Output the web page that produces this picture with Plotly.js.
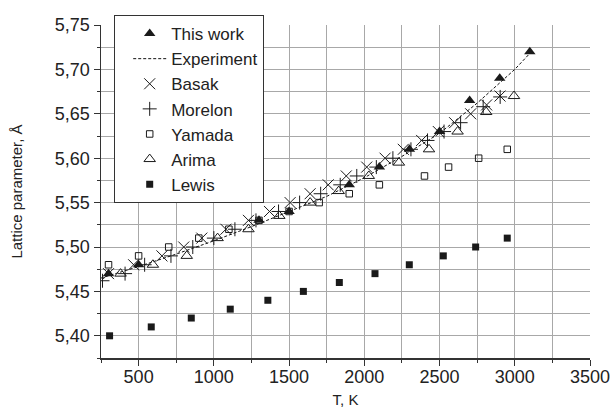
<!DOCTYPE html>
<html>
<head>
<meta charset="utf-8">
<script src="https://cdn.plot.ly/plotly-3.0.1.min.js"></script>
<style>html,body{margin:0;padding:0;background:#fff;}#chart{width:614px;height:414px;}</style>
</head>
<body>
<div id="chart"></div>
<script>
// ---- data ----
const thisWorkT = [300, 500, 1300, 1500, 1900, 2100, 2300, 2500, 2700, 2900, 3100];
const thisWorkA = [5.47, 5.48, 5.53, 5.54, 5.57, 5.59, 5.61, 5.63, 5.665, 5.69, 5.72];

const expT = [250, 500, 750, 1000, 1250, 1500, 1750, 2000, 2250, 2500, 2750, 3000, 3100];
const expA = [5.465, 5.478, 5.492, 5.507, 5.523, 5.540, 5.557, 5.578, 5.602, 5.628, 5.662, 5.700, 5.718];

const basakT = [300, 467, 655, 800, 920, 1080, 1230, 1370, 1507, 1640, 1760, 1880, 2016, 2138, 2259, 2381, 2492, 2600, 2707, 2813, 2902];
const basakA = [5.47, 5.48, 5.49, 5.50, 5.51, 5.52, 5.53, 5.54, 5.55, 5.56, 5.57, 5.58, 5.59, 5.60, 5.61, 5.62, 5.63, 5.64, 5.65, 5.66, 5.67];

const morelonT = [260, 410, 540, 715, 860, 1000, 1140, 1280, 1430, 1570, 1710, 1840, 1950, 2080, 2190, 2310, 2420, 2530, 2640, 2790, 2903];
const morelonA = [5.462, 5.47, 5.48, 5.49, 5.50, 5.51, 5.52, 5.53, 5.54, 5.55, 5.56, 5.57, 5.58, 5.59, 5.60, 5.61, 5.62, 5.63, 5.64, 5.658, 5.669];

const yamadaT = [300, 500, 700, 900, 1100, 1300, 1500, 1700, 1900, 2100, 2400, 2560, 2760, 2950];
const yamadaA = [5.48, 5.49, 5.50, 5.51, 5.52, 5.53, 5.54, 5.55, 5.56, 5.57, 5.58, 5.59, 5.60, 5.61];

const arimaT = [380, 595, 820, 1025, 1230, 1435, 1640, 1830, 2030, 2230, 2430, 2620, 2810, 2995];
const arimaA = [5.47, 5.48, 5.49, 5.51, 5.52, 5.535, 5.55, 5.563, 5.58, 5.595, 5.61, 5.63, 5.652, 5.67];

const lewisT = [307, 584, 850, 1109, 1359, 1595, 1834, 2071, 2299, 2525, 2740, 2950];
const lewisA = [5.40, 5.41, 5.42, 5.43, 5.44, 5.45, 5.46, 5.47, 5.48, 5.49, 5.50, 5.51];

const seriesNames = ['This work', 'Experiment', 'Basak', 'Morelon', 'Yamada', 'Arima', 'Lewis'];

// ---- styling ----
const ink = '#1a1a1a';
const grid = '#a8a8a8';
const font = 'Liberation Sans, Arial, sans-serif';

const traces = [
  {x: expT, y: expA, name: seriesNames[1], mode: 'lines', legendrank: 2,
   line: {color: '#111', width: 1, dash: '3px,2px'}},
  {x: basakT, y: basakA, name: seriesNames[2], mode: 'markers', legendrank: 3,
   marker: {symbol: 'x-thin-open', size: 11, color: ink, line: {color: ink, width: 1}}},
  {x: morelonT, y: morelonA, name: seriesNames[3], mode: 'markers', legendrank: 4,
   marker: {symbol: 'cross-thin-open', size: 10, color: ink, line: {color: ink, width: 1}}},
  {x: yamadaT, y: yamadaA, name: seriesNames[4], mode: 'markers', legendrank: 5,
   marker: {symbol: 'square-open', size: 6.5, color: ink, line: {color: ink, width: 1}}},
  {x: arimaT, y: arimaA, name: seriesNames[5], mode: 'markers', legendrank: 6,
   marker: {symbol: 'triangle-up-open', size: 10, color: ink, line: {color: ink, width: 1}}},
  {x: lewisT, y: lewisA, name: seriesNames[6], mode: 'markers', legendrank: 7,
   marker: {symbol: 'square', size: 7, color: ink}},
  {x: thisWorkT, y: thisWorkA, name: seriesNames[0], mode: 'markers', legendrank: 1,
   marker: {symbol: 'triangle-up', size: 10, color: ink}}
];

const layout = {
  width: 614, height: 414,
  margin: {l: 101, r: 24, t: 25, b: 56},
  paper_bgcolor: '#fff', plot_bgcolor: '#fff',
  separators: ',.',
  font: {family: font, size: 18, color: '#222'},
  showlegend: true,
  legend: {
    x: 0.027, y: 1.03, xanchor: 'left', yanchor: 'top',
    bgcolor: '#fff', bordercolor: '#333', borderwidth: 1,
    font: {family: font, size: 17, color: '#222'},
    itemwidth: 33, indentation: 13, tracegroupgap: 0,
    entrywidth: 165, entrywidthmode: 'pixels'
  },
  xaxis: {
    range: [250, 3500], dtick: 500, tick0: 0,
    ticks: 'outside', ticklen: 6, tickcolor: '#333', tickwidth: 1,
    ticklabelstandoff: -4,
    showline: true, linecolor: '#333', linewidth: 1.5,
    showgrid: true, gridcolor: grid, gridwidth: 1,
    zeroline: false,
    minor: {dtick: 250, tick0: 0, ticks: 'outside', ticklen: 3, tickcolor: '#333', showgrid: true, gridcolor: grid, gridwidth: 1},
    title: {text: 'T, K', font: {family: font, size: 15, color: '#222'}, standoff: 8},
    tickfont: {family: font, size: 18, color: '#222'}
  },
  yaxis: {
    range: [5.375, 5.75], dtick: 0.05, tick0: 5.4, tickformat: '.2f',
    ticks: 'outside', ticklen: 6, tickcolor: '#333', tickwidth: 1,
    showline: true, linecolor: '#333', linewidth: 1.5,
    showgrid: true, gridcolor: grid, gridwidth: 1,
    zeroline: false,
    minor: {dtick: 0.025, tick0: 5.4, ticks: 'outside', ticklen: 3, tickcolor: '#333', showgrid: true, gridcolor: grid, gridwidth: 1},
    title: {text: 'Lattice parameter, Å', font: {family: font, size: 15, color: '#222'}, standoff: 28},
    tickfont: {family: font, size: 18, color: '#222'}
  }
};

Plotly.newPlot('chart', traces, layout, {staticPlot: true, displayModeBar: false});
</script>
</body>
</html>
